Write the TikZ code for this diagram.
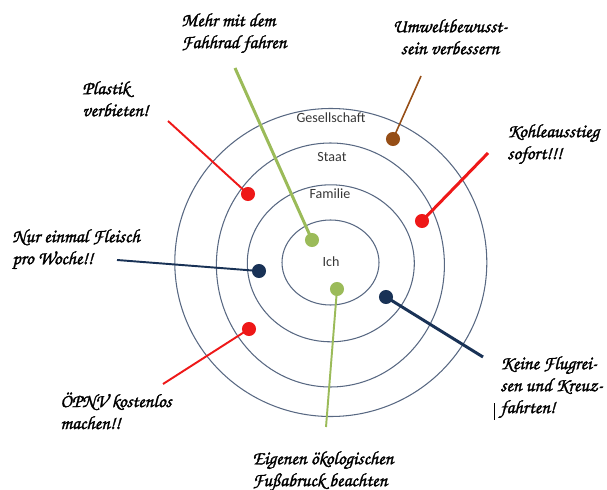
\documentclass[tikz,border=0pt]{standalone}
\usepackage{fontspec}
\setsansfont{Carlito}
\newfontfamily\handfont[FakeBold=1.5]{texgyrechorus-mediumitalic.otf}
\usetikzlibrary{positioning}
\definecolor{ringcolor}{RGB}{88,104,130}
\definecolor{labelgray}{RGB}{55,55,55}
\definecolor{ideagreen}{RGB}{155,187,89}
\definecolor{ideared}{RGB}{238,24,24}
\definecolor{ideanavy}{RGB}{25,50,86}
\definecolor{ideabrown}{RGB}{150,78,22}

\tikzset{
  ring/.style={draw=ringcolor, line width=0.6pt},
  ringlabel/.style={font=\sffamily\fontsize{8}{9}\selectfont, text=labelgray, inner sep=0pt},
  dot/.style={circle, fill=#1, inner sep=0pt, minimum size=8},
  idea/.style={font=\handfont\fontsize{10.8}{12.5}\selectfont, align=left, anchor=north west, inner sep=0pt},
}

\begin{document}
\begin{tikzpicture}[x=0.02cm, y=-0.02cm]
            \useasboundingbox (0,0) rectangle (607,489);

            % Draw the rings
            \draw[ring] (330.5,262.5) ellipse [x radius=48.5, y radius=42.5];
            \draw[ring] (330.8,263.3) ellipse [x radius=83.5, y radius=78.5];
            \draw[ring] (330.4,265) ellipse [x radius=114, y radius=122];
            \draw[ring] (330.8,262.5) ellipse [x radius=156, y radius=154];

            % Ring labels
            \node[ringlabel] (gesellschaft) at (331,118) {Gesellschaft};
            \node[ringlabel] (staat) at (332,157) {Staat};
            \node[ringlabel] (familie) at (330,194) {Familie};
            \node[ringlabel] (ich) at (331,262) {Ich};

            % Ideas
            \node[idea] (fahrrad) at (181,13) {Mehr mit dem\\Fahhrad fahren};
            \node[idea] (plastik) at (82,81) {Plastik\\verbieten!};
            \node[idea, anchor=north, align=center] (umwelt) at (450,19) {Umweltbewusst-\\sein verbessern};
            \node[idea] (kohle) at (507,124) {Kohleausstieg\\sofort!!!};
            \node[idea] (fleisch) at (12,229) {Nur einmal Fleisch\\pro Woche!!};
            \node[idea] (oepnv) at (60,392) {ÖPNV kostenlos\\machen!!};
            \node[idea] (flug) at (500,356) {Keine Flugrei-\\sen und Kreuz-\\fahrten!};
            \node[idea] (fuss) at (252,451) {Eigenen ökologischen\\Fußabruck beachten};

            % Plot the points
            \node[dot=ideagreen] (pfahrrad) at (312,240) {};
            \node[dot=ideared] (pplastik) at (248,194) {};
            \node[dot=ideabrown] (pumwelt) at (393,139) {};
            \node[dot=ideared] (pkohle) at (422,221) {};
            \node[dot=ideanavy] (pfleisch) at (259,271) {};
            \node[dot=ideared] (poepnv) at (249,329) {};
            \node[dot=ideanavy] (pflug) at (386,297) {};
            \node[dot=ideagreen] (pfuss) at (337,289) {};

            % Line ends
            \coordinate (efahrrad) at (235,68);
            \coordinate (eplastik) at (168,121);
            \coordinate (eumwelt) at (421,76);
            \coordinate (ekohle) at (488,153);
            \coordinate (efleisch) at (117,260);
            \coordinate (eoepnv) at (163,384);
            \coordinate (eflug) at (483,357);
            \coordinate (efuss) at (326,427);

            % Draw the lines
            \draw[ideagreen, line width=1.7pt] (efahrrad) -- (pfahrrad.center);
            \draw[ideared, line width=1.1pt] (eplastik) -- (pplastik.center);
            \draw[ideabrown, line width=0.9pt] (eumwelt) -- (pumwelt.center);
            \draw[ideared, line width=1.7pt] (ekohle) -- (pkohle.center);
            \draw[ideanavy, line width=1.1pt] (efleisch) -- (pfleisch.center);
            \draw[ideared, line width=1.1pt] (eoepnv) -- (poepnv.center);
            \draw[ideanavy, line width=1.7pt] (eflug) -- (pflug.center);
            \draw[ideagreen, line width=1.1pt] (efuss) -- (pfuss.center);

            % Cursor mark
            \coordinate (cursortop) at (494,403);
            \coordinate (cursorbottom) at (494,420);
            \draw[line width=0.5pt] (cursortop) -- (cursorbottom);
        \end{tikzpicture}
\end{document}
